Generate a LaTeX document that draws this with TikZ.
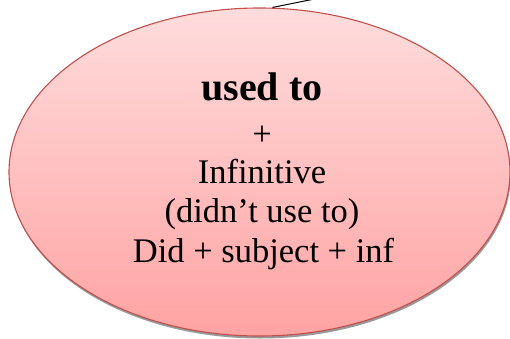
\documentclass[tikz,border=0pt]{standalone}
\usepackage{fontspec}
\setmainfont{Liberation Serif}
\usetikzlibrary{shadows,shapes.geometric}
\definecolor{topc}{HTML}{FFDCDC}
\definecolor{botc}{HTML}{FFA3A3}
\definecolor{edgec}{HTML}{C0504D}
\tikzset{
  bubble/.style={ellipse, draw=edgec, line width=1.1pt, top color=topc, bottom color=botc,
    minimum width=501pt, minimum height=328pt, inner sep=0pt,
    drop shadow={shadow xshift=0.8pt, shadow yshift=-2.5pt, fill=black!40, opacity=1}},
  connector/.style={draw=black, line width=1pt}
}
\begin{document}
\begin{tikzpicture}[x=1pt,y=1pt]
\useasboundingbox (0,0) rectangle (510,338);
\node[bubble] (b) at (259.5,166) {};
\node[font=\fontsize{40}{40}\selectfont\bfseries, anchor=base] (t1) at (262,238) {used to};
\node[font=\fontsize{34.5}{34.5}\selectfont, anchor=base] (t2) at (262,193) {+};
\node[font=\fontsize{34.5}{34.5}\selectfont, anchor=base] (t3) at (262,155) {Infinitive};
\node[font=\fontsize{34.5}{34.5}\selectfont, anchor=base] (t4) at (262,116) {(didn’t use to)};
\node[font=\fontsize{34.5}{34.5}\selectfont, anchor=base] (t5) at (263.5,76) {Did + subject + inf};
\coordinate (e) at (312,338.5);
\draw[connector] (b.north) ++(13,0) coordinate (s) (s) -- (e);
\end{tikzpicture}
\end{document}
